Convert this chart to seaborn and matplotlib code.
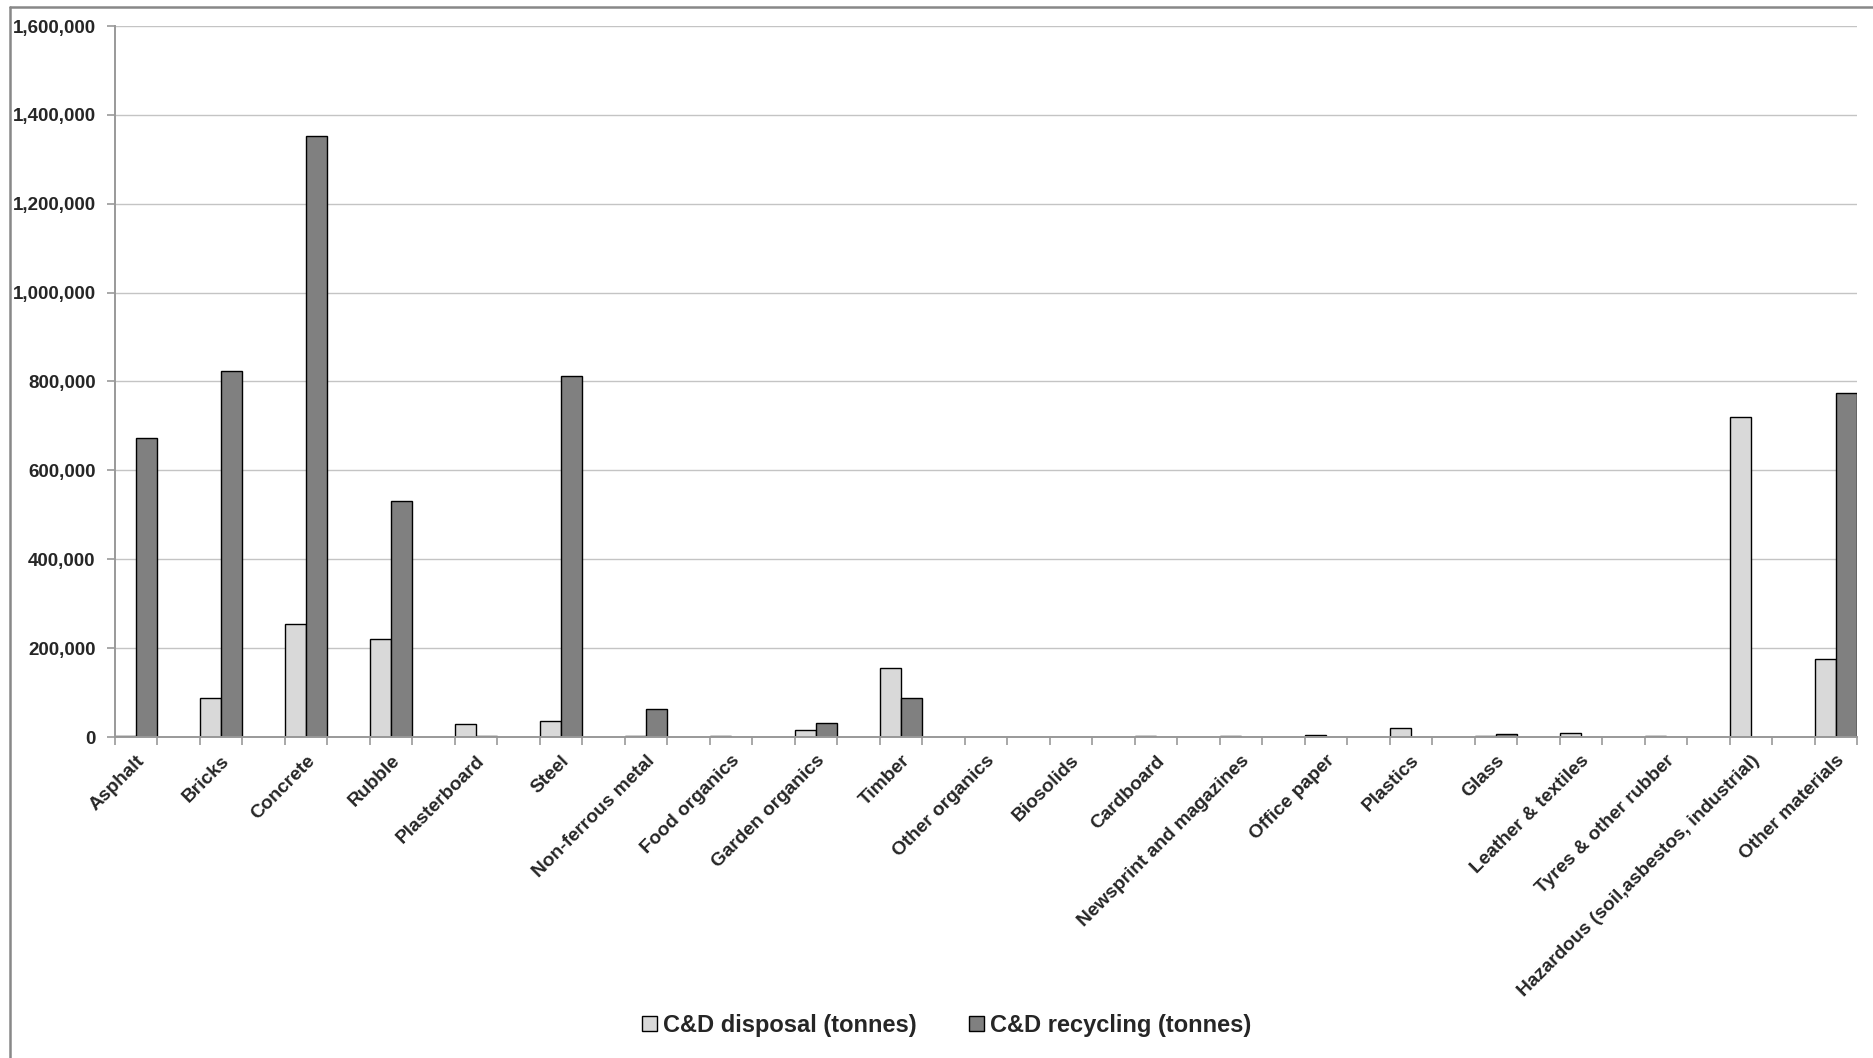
import matplotlib
matplotlib.use("Agg")
import matplotlib.pyplot as plt
from matplotlib.lines import Line2D
from matplotlib.ticker import FuncFormatter, FixedLocator
import numpy as np
import pandas as pd
import seaborn as sns

# Construction & demolition waste streams by material (tonnes)
materials = [
    "Asphalt", "Bricks", "Concrete", "Rubble", "Plasterboard", "Steel",
    "Non-ferrous metal", "Food organics", "Garden organics", "Timber",
    "Other organics", "Biosolids", "Cardboard", "Newsprint and magazines",
    "Office paper", "Plastics", "Glass", "Leather & textiles",
    "Tyres & other rubber", "Hazardous (soil,asbestos, industrial)",
    "Other materials",
]
disposal = [
    3000, 87000, 254000, 220000, 30000, 35000,
    3000, 3000, 15000, 156000,
    0, 0, 3000, 3000,
    5000, 21000, 3000, 8000,
    2000, 721000,
    176000,
]
recycling = [
    672000, 823000, 1353000, 530000, 3000, 812000,
    62000, 0, 31000, 88000,
    0, 0, 0, 0,
    0, 0, 7500, 0,
    0, 0,
    774000,
]
series_names = ["C&D disposal (tonnes)", "C&D recycling (tonnes)"]
series_colors = ["#d9d9d9", "#808080"]
y_ticks = list(range(0, 1600001, 200000))

df = pd.DataFrame({
    "Material": materials * 2,
    "Tonnes": disposal + recycling,
    "Stream": [series_names[0]] * len(materials) + [series_names[1]] * len(materials),
})

sns.set_theme(style="white")
plt.rcParams["font.family"] = ["Liberation Sans", "DejaVu Sans"]
plt.rcParams["font.weight"] = "bold"

W, H = 1874, 1058
fig = plt.figure(figsize=(W / 100, H / 100), dpi=100)
ax = fig.add_axes([115 / W, 1 - 737 / H, (1857 - 115) / W, (737 - 26) / H])

sns.barplot(
    data=df, x="Material", y="Tonnes", hue="Stream",
    order=materials, hue_order=series_names,
    palette=series_colors, saturation=1, width=0.5,
    edgecolor="black", linewidth=1.0, ax=ax, legend=True,
)

n = len(materials)
ax.set_xlim(-0.25, n - 0.75)
ax.set_ylim(0, 1600000)
ax.set_xlabel("")
ax.set_ylabel("")

# grid and axes styling
ax.set_yticks(y_ticks)
ax.yaxis.set_major_formatter(FuncFormatter(lambda v, p: f"{int(v):,}"))
ax.yaxis.grid(True, color="#c4c4c4", linewidth=1.0)
ax.set_axisbelow(True)
for side in ["top", "right"]:
    ax.spines[side].set_visible(False)
for side in ["left", "bottom"]:
    ax.spines[side].set_color("#999999")
    ax.spines[side].set_linewidth(1.4)

ax.tick_params(axis="y", which="major", left=True, length=6, width=1.2,
               color="#999999", pad=8, labelsize=13.5)
ax.set_xticks(np.arange(n))
ax.set_xticklabels(materials, rotation=45, ha="right", rotation_mode="anchor",
                   fontsize=13.8, fontweight="bold")
ax.tick_params(axis="x", which="major", length=0, pad=11)
ax.xaxis.set_minor_locator(FixedLocator(np.arange(-0.25, n - 0.5, 0.5)))
ax.tick_params(axis="x", which="minor", bottom=True, length=6, width=1.2,
               color="#999999")
for lbl in ax.get_yticklabels():
    lbl.set_fontweight("bold")

# legend below the plot
handles, labels = ax.get_legend_handles_labels()
ax.get_legend().remove()
fig.legend(handles, labels, loc="center", bbox_to_anchor=(0.505, 0.031),
           ncol=2, frameon=False, prop={"size": 17, "weight": "bold"},
           handlelength=0.65, handleheight=0.65, handletextpad=0.25,
           columnspacing=2.2)

# chart-area frame (top and left edges)
fig.add_artist(Line2D([10 / W, 1.0], [1 - 7 / H, 1 - 7 / H],
                      transform=fig.transFigure, color="#888888", lw=1.8))
fig.add_artist(Line2D([10 / W, 10 / W], [0, 1 - 7 / H],
                      transform=fig.transFigure, color="#888888", lw=1.8))

fig.savefig("out.png", dpi=100, facecolor="white")
